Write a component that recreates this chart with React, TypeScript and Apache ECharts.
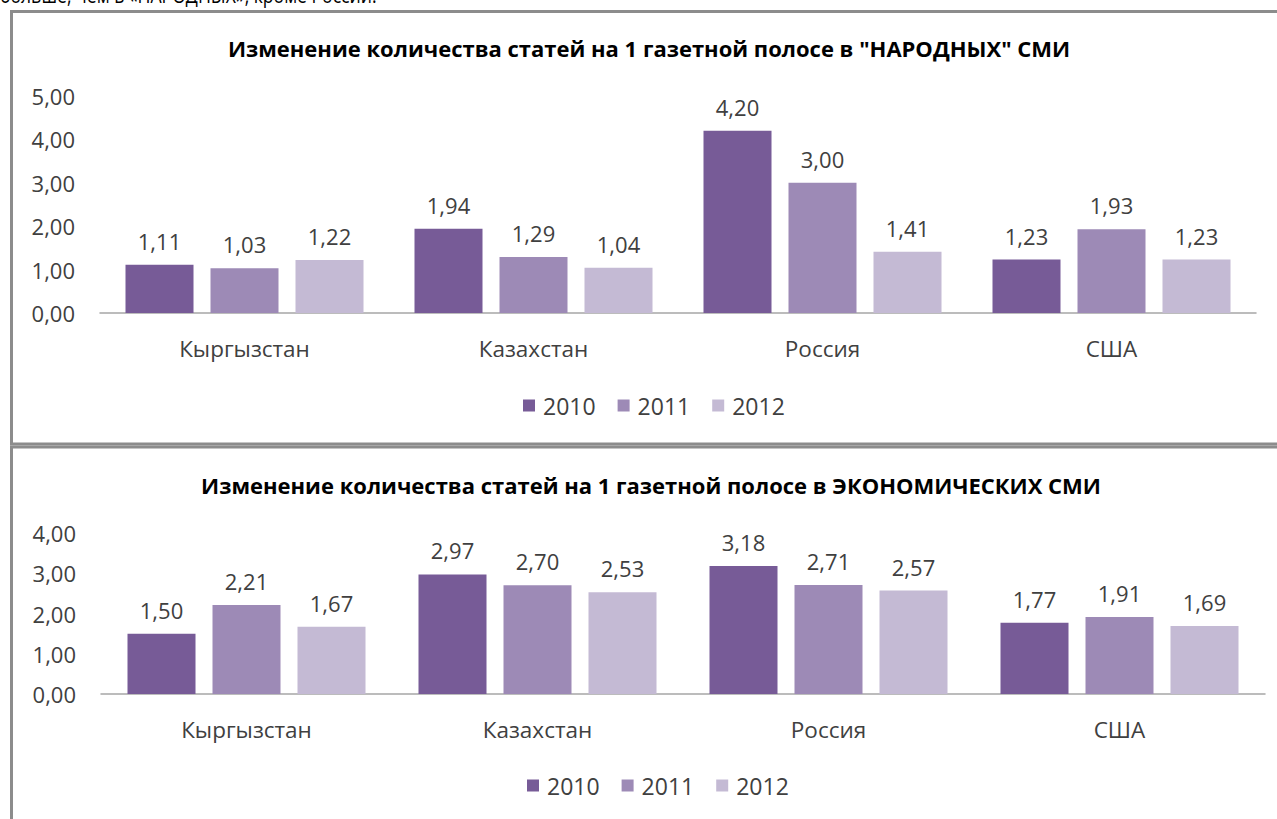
import React, { useEffect, useRef } from 'react';
import * as echarts from 'echarts';

const categories = ['Кыргызстан', 'Казахстан', 'Россия', 'США'];
const years = ['2010', '2011', '2012'];
const popular2010 = [1.11, 1.94, 4.2, 1.23];
const popular2011 = [1.03, 1.29, 3.0, 1.93];
const popular2012 = [1.22, 1.04, 1.41, 1.23];
const econ2010 = [1.5, 2.97, 3.18, 1.77];
const econ2011 = [2.21, 2.7, 2.71, 1.91];
const econ2012 = [1.67, 2.53, 2.57, 1.69];
const topAxisMax = 5;
const bottomAxisMax = 4;
const titleTop = 'Изменение количества статей на 1 газетной полосе в "НАРОДНЫХ" СМИ';
const titleBottom = 'Изменение количества статей на 1 газетной полосе в ЭКОНОМИЧЕСКИХ СМИ';
const caption = 'больше, чем в «НАРОДНЫХ», кроме России.';

const colors = ['#775b97', '#9d8ab6', '#c4bad4'];
const FONT = "'Open Sans', 'Noto Sans', sans-serif";
const TXT = '#404040';
const fmt = (v: number) => v.toFixed(2).replace('.', ',');

export default function App() {
  const ref = useRef<HTMLDivElement>(null);
  useEffect(() => {
    document.body.style.margin = '0';
    const chart = echarts.init(ref.current!, null, { renderer: 'svg' });
    const topData = [popular2010, popular2011, popular2012];
    const botData = [econ2010, econ2011, econ2012];
    const mkSeries = (data: number[][], idx: number) =>
      data.map((d, i) => ({
        type: 'bar',
        name: years[i],
        xAxisIndex: idx,
        yAxisIndex: idx,
        data: d,
        barWidth: 68,
        barGap: '25%',
        itemStyle: { color: colors[i] },
        label: {
          show: true,
          position: 'top',
          distance: 13,
          color: TXT,
          fontFamily: FONT,
          fontSize: 22,
          formatter: (p: any) => fmt(p.value),
        },
      }));
    const xAxisBase = (gridIndex: number) => ({
      type: 'category',
      gridIndex,
      data: categories,
      axisLine: { lineStyle: { color: '#a6a6a6', width: 1.5 } },
      axisTick: { show: false },
      axisLabel: { color: TXT, fontFamily: FONT, fontSize: 22.5, margin: 24 },
    });
    const yAxisBase = (gridIndex: number, max: number) => ({
      type: 'value',
      gridIndex,
      min: 0,
      max,
      interval: 1,
      splitLine: { show: false },
      axisLine: { show: false },
      axisTick: { show: false },
      axisLabel: { color: TXT, fontFamily: FONT, fontSize: 22, margin: 25, formatter: (v: number) => fmt(v) },
    });
    const legendBase = (top: number, left: number) => ({
      data: years,
      top,
      left,
      icon: 'rect',
      itemWidth: 12,
      itemHeight: 12,
      itemGap: 22,
      itemStyle: { borderWidth: 0 },
      textStyle: { color: TXT, fontFamily: FONT, fontSize: 23, padding: [0, 0, 0, 3] },
    });
    chart.setOption({
      animation: false,
      backgroundColor: '#ffffff',
      grid: [
        { left: 100, right: 21, top: 96, height: 217 },
        { left: 101, right: 12, top: 533, height: 161 },
      ],
      xAxis: [xAxisBase(0), xAxisBase(1)],
      yAxis: [yAxisBase(0, topAxisMax), yAxisBase(1, bottomAxisMax)],
      legend: [legendBase(389, 518), legendBase(769, 522)],
      series: [...mkSeries(topData, 0), ...mkSeries(botData, 1)],
      graphic: [
        {
          type: 'rect',
          shape: { x: 11.5, y: 11.5, width: 1300, height: 432.5 },
          style: { fill: 'none', stroke: '#8c8c8c', lineWidth: 3 },
          silent: true,
        },
        {
          type: 'rect',
          shape: { x: 11.5, y: 447, width: 1300, height: 400 },
          style: { fill: 'none', stroke: '#8c8c8c', lineWidth: 3 },
          silent: true,
        },
        {
          type: 'text',
          x: 0,
          y: 6,
          scaleX: 0.8,
          style: { text: caption, fill: '#000', font: `22px ${FONT}`, textVerticalAlign: 'bottom' },
          silent: true,
        },
        {
          type: 'text',
          x: 649,
          y: 48,
          style: { text: titleTop, fill: '#000', font: `bold 22px ${FONT}`, textAlign: 'center', textVerticalAlign: 'middle' },
          silent: true,
        },
        {
          type: 'text',
          x: 651,
          y: 485,
          style: { text: titleBottom, fill: '#000', font: `bold 22px ${FONT}`, textAlign: 'center', textVerticalAlign: 'middle' },
          silent: true,
        },
      ],
    });
    return () => chart.dispose();
  }, []);
  return <div ref={ref} style={{ width: 1277, height: 819 }} />;
}
